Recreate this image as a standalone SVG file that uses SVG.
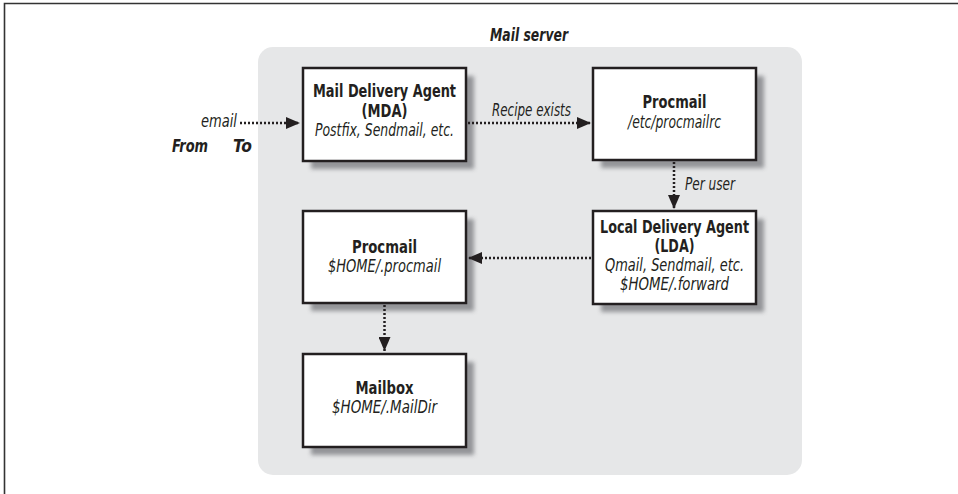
<svg xmlns="http://www.w3.org/2000/svg" width="958" height="494" viewBox="0 0 958 494">
<style>
  text { font-family: "Liberation Sans Narrow", "DejaVu Sans Condensed", "Liberation Sans", sans-serif; font-size: 17px; fill: #231f20; }
  .b { font-weight: bold; }
  .i { font-style: italic; }
  .m { text-anchor: middle; }
  .box { fill: #ffffff; stroke: #231f20; stroke-width: 2.5; }
  .shadow { fill: #808185; opacity: 0.8; filter: url(#blur); }
  .dot { stroke: #231f20; stroke-width: 2.5; stroke-dasharray: 2 2; fill: none; marker-end: url(#arr); }
</style>
<defs>
  <filter id="blur" x="-10%" y="-10%" width="130%" height="130%">
    <feGaussianBlur stdDeviation="2.2"/>
  </filter>
  <marker id="arr" markerUnits="userSpaceOnUse" markerWidth="14" markerHeight="12" refX="14" refY="6" orient="auto">
    <path d="M0,0 L14,6 L0,12 z" fill="#231f20"/>
  </marker>
</defs>

<rect width="958" height="494" fill="#ffffff"/>
<path d="M4.5,494 V3.5 H958" fill="none" stroke="#333333" stroke-width="1.6"/>

<g id="mail-server">
  <rect x="258" y="47" width="544" height="428" rx="15" fill="#e6e7e8"/>
  <text class="b i m" x="529" y="41" textLength="78" lengthAdjust="spacingAndGlyphs">Mail server</text>
</g>

<g id="labels">
  <text class="i" x="201" y="127" textLength="36" lengthAdjust="spacingAndGlyphs">email</text>
  <text class="b i" x="172" y="152" textLength="36" lengthAdjust="spacingAndGlyphs">From</text>
  <text class="b i" x="233" y="152" textLength="19" lengthAdjust="spacingAndGlyphs">To</text>
  <text class="i" x="492" y="116" textLength="79" lengthAdjust="spacingAndGlyphs">Recipe exists</text>
  <text class="i" x="685" y="190" textLength="50" lengthAdjust="spacingAndGlyphs">Per user</text>
</g>

<g id="mda">
  <rect class="shadow" x="311" y="76" width="163" height="93"/>
  <rect class="box" x="303" y="68" width="163" height="93"/>
  <text class="b m" x="384.5" y="97" textLength="143" lengthAdjust="spacingAndGlyphs">Mail Delivery Agent</text>
  <text class="b m" x="384.5" y="116.5" textLength="46" lengthAdjust="spacingAndGlyphs">(MDA)</text>
  <text class="i m" x="384.5" y="136" textLength="139" lengthAdjust="spacingAndGlyphs">Postfix, Sendmail, etc.</text>
</g>

<g id="procmail-system">
  <rect class="shadow" x="601" y="76" width="163" height="92"/>
  <rect class="box" x="593" y="68" width="163" height="92"/>
  <text class="b m" x="674.5" y="108" textLength="64" lengthAdjust="spacingAndGlyphs">Procmail</text>
  <text class="i m" x="674.5" y="128" textLength="93" lengthAdjust="spacingAndGlyphs">/etc/procmailrc</text>
</g>

<g id="lda">
  <rect class="shadow" x="601" y="219" width="163" height="93"/>
  <rect class="box" x="593" y="211" width="163" height="93"/>
  <text class="b m" x="674.5" y="232.5" textLength="149" lengthAdjust="spacingAndGlyphs">Local Delivery Agent</text>
  <text class="b m" x="674.5" y="251.5" textLength="40" lengthAdjust="spacingAndGlyphs">(LDA)</text>
  <text class="i m" x="674.5" y="270.5" textLength="139" lengthAdjust="spacingAndGlyphs">Qmail, Sendmail, etc.</text>
  <text class="i m" x="674.5" y="290" textLength="109" lengthAdjust="spacingAndGlyphs">$HOME/.forward</text>
</g>

<g id="procmail-user">
  <rect class="shadow" x="311" y="219" width="163" height="92"/>
  <rect class="box" x="303" y="211" width="163" height="92"/>
  <text class="b m" x="384.5" y="252.5" textLength="65" lengthAdjust="spacingAndGlyphs">Procmail</text>
  <text class="i m" x="384.5" y="272" textLength="113" lengthAdjust="spacingAndGlyphs">$HOME/.procmail</text>
</g>

<g id="mailbox">
  <rect class="shadow" x="311" y="362" width="163" height="93"/>
  <rect class="box" x="303" y="354" width="163" height="93"/>
  <text class="b m" x="384.5" y="394" textLength="58" lengthAdjust="spacingAndGlyphs">Mailbox</text>
  <text class="i m" x="384.5" y="413" textLength="105" lengthAdjust="spacingAndGlyphs">$HOME/.MailDir</text>
</g>

<g id="connectors">
  <line class="dot" x1="240" y1="123" x2="300" y2="123"/>
  <line class="dot" x1="468" y1="123" x2="591" y2="123"/>
  <line class="dot" x1="674" y1="162" x2="674" y2="209"/>
  <line class="dot" x1="591" y1="258" x2="468" y2="258"/>
  <line class="dot" x1="384.5" y1="305" x2="384.5" y2="351"/>
</g>
</svg>
